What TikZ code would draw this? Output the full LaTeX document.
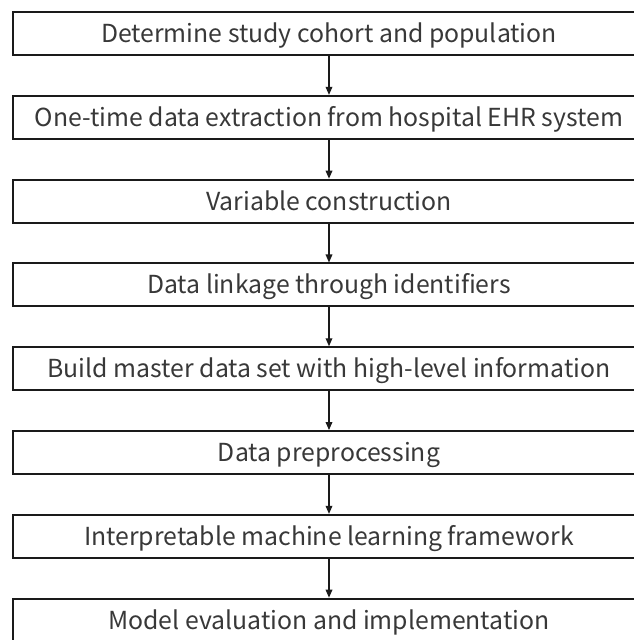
\documentclass[tikz,border=0pt]{standalone}
\usepackage{fontspec}
\setmainfont{Noto Sans CJK SC}
\usetikzlibrary{positioning,arrows.meta}
\definecolor{boxline}{HTML}{1A1A1A}
\definecolor{steptxt}{HTML}{383838}
\begin{document}
\begin{tikzpicture}[x=0.75pt,y=-0.75pt,node distance=29.2pt,
  stepbox/.style={draw=boxline,line width=1.4pt,minimum width=474.5pt,minimum height=32.25pt,
    inner sep=0pt,text height=13.4pt,text depth=0pt,text=steptxt,font=\fontsize{18.6}{22}\selectfont},
  flow/.style={draw=boxline,line width=0.9pt,-{Triangle[length=6pt,width=5pt]}}]
  \useasboundingbox (0,0) rectangle (634,640);
  \clip (0,0) rectangle (634,640);
  \node[stepbox] (s1) at (329,33.5) {Determine study cohort and population};
  \node[stepbox,below=of s1] (s2) {One-time data extraction from hospital EHR system};
  \node[stepbox,below=of s2] (s3) {Variable construction};
  \node[stepbox,below=of s3] (s4) {Data linkage through identifiers};
  \node[stepbox,below=of s4] (s5) {Build master data set with high-level information};
  \node[stepbox,below=of s5] (s6) {Data preprocessing};
  \node[stepbox,below=of s6] (s7) {Interpretable machine learning framework};
  \node[stepbox,below=of s7] (s8) {Model evaluation and implementation};
  \foreach \a/\b in {s1/s2,s2/s3,s3/s4,s4/s5,s5/s6,s6/s7,s7/s8}
    \draw[flow] (\a.south) -- (\b.north);
\end{tikzpicture}
\end{document}
